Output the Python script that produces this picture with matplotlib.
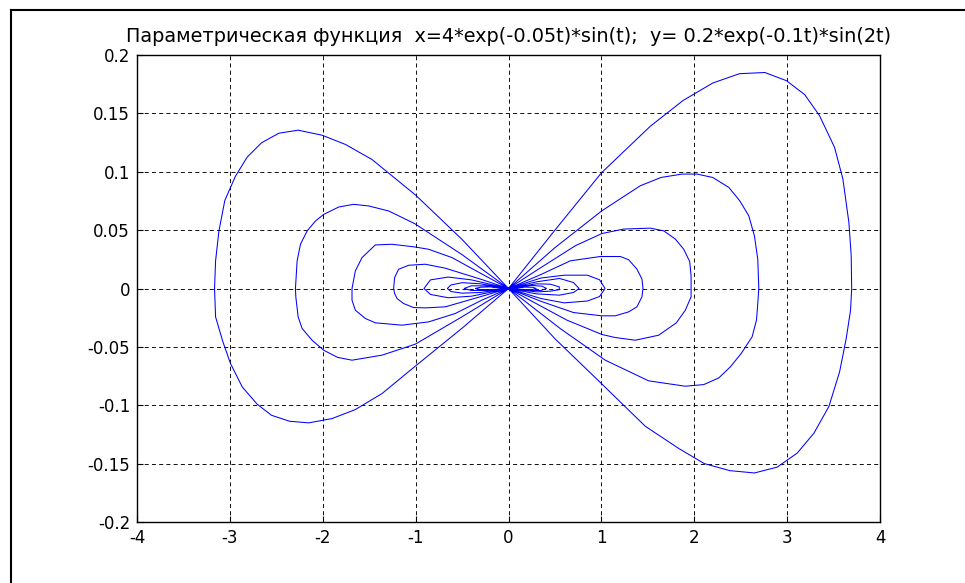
import matplotlib
matplotlib.use("Agg")
import matplotlib.pyplot as plt
from matplotlib.lines import Line2D

# ---- data (one closed lobe per list pair) ----
lobe0_x = [0, 0.5, 1.0, 1.527, 1.879, 2.199, 2.487, 2.76, 2.993, 3.19, 3.349, 3.51, 3.60, 3.665, 3.69, 3.695,
           3.683, 3.636, 3.565, 3.45, 3.288, 3.108, 2.893, 2.648, 2.382, 2.109, 1.833, 1.473, 1.0, 0.5, 0]
lobe0_y = [0, 0.05, 0.099, 0.139, 0.161, 0.176, 0.184, 0.185, 0.178, 0.166, 0.148, 0.121, 0.094, 0.0566, 0.028, 0.0,
           -0.0186, -0.0429, -0.0714, -0.101, -0.124, -0.141, -0.153, -0.158, -0.156, -0.150, -0.137, -0.118, -0.0814, -0.043, 0]

lobe1_x = [0, -0.5, -1.0, -1.47, -1.756, -2.007, -2.265, -2.473, -2.659, -2.814, -2.939, -3.054, -3.118, -3.154, -3.165,
           -3.154, -3.075, -2.993, -2.867, -2.706, -2.552, -2.358, -2.151, -1.900, -1.649, -1.362, -1.011, -0.5, 0]
lobe1_y = [0, 0.042, 0.080, 0.1105, 0.1234, 0.1313, 0.1356, 0.133, 0.1248, 0.1125, 0.0963, 0.0755, 0.0493, 0.0236, 0.0,
           -0.0243, -0.0457, -0.0643, -0.0843, -0.0991, -0.1086, -0.1137, -0.1151, -0.1114, -0.1037, -0.09, -0.067, -0.034, 0]

lobe2_x = [0, 0.5, 1.006, 1.419, 1.642, 1.868, 2.03, 2.199, 2.372, 2.49, 2.587, 2.648, 2.684, 2.695,
           2.684, 2.67, 2.623, 2.505, 2.39, 2.264, 2.102, 1.904, 1.509, 1.042, 0.557, 0]
lobe2_y = [0, 0.035, 0.0666, 0.088, 0.0951, 0.098, 0.098, 0.0951, 0.0866, 0.0751, 0.0623, 0.0451, 0.0251, 0,
           -0.0129, -0.0271, -0.0414, -0.0557, -0.067, -0.0766, -0.0823, -0.0837, -0.0791, -0.0614, -0.0343, 0]

lobe3_x = [0, -0.5, -1.011, -1.29, -1.505, -1.667, -1.828, -1.989, -2.079, -2.168, -2.24, -2.276, -2.294,
           -2.29, -2.265, -2.222, -2.115, -1.989, -1.84, -1.685, -1.362, -1.004, -0.502, 0]
lobe3_y = [0, 0.029, 0.0556, 0.0664, 0.0707, 0.0721, 0.0698, 0.0635, 0.0578, 0.0493, 0.0379, 0.0236, 0,
           -0.0071, -0.0243, -0.0343, -0.0443, -0.0529, -0.059, -0.0614, -0.0571, -0.0477, -0.0243, 0]

lobe4_x = [0, 0.35, 0.719, 1.006, 1.24, 1.527, 1.671, 1.797, 1.886, 1.951, 1.966,
           1.966, 1.904, 1.807, 1.617, 1.365, 1.15, 1.006, 0.629, 0.3, 0]
lobe4_y = [0, 0.018, 0.0366, 0.0471, 0.0509, 0.0517, 0.0494, 0.0423, 0.0337, 0.0231, 0.0109,
           -0.0071, -0.0186, -0.0294, -0.040, -0.0443, -0.042, -0.0394, -0.0271, -0.013, 0]

lobe5_x = [0, -0.3, -0.609, -0.86, -1.011, -1.254, -1.434, -1.577, -1.649, -1.685,
           -1.685, -1.649, -1.541, -1.434, -1.147, -0.86, -0.573, -0.287, 0]
lobe5_y = [0, 0.013, 0.0265, 0.0336, 0.0356, 0.0379, 0.0373, 0.0265, 0.0151, 0,
           -0.010, -0.0186, -0.0257, -0.0294, -0.0314, -0.0286, -0.0214, -0.010, 0]

lobe6_x = [0, 0.35, 0.665, 0.988, 1.204, 1.294, 1.383, 1.437, 1.448, 1.437, 1.383, 1.294, 1.15, 1.006, 0.70, 0.35, 0]
lobe6_y = [0, 0.012, 0.0237, 0.0274, 0.0274, 0.0246, 0.0166, 0.008, 0, -0.0071, -0.0157, -0.020, -0.0234, -0.0234, -0.0206, -0.011, 0]

lobe7_x = [0, -0.3, -0.681, -0.896, -1.075, -1.183, -1.226, -1.237, -1.226, -1.2, -1.129, -1.022, -0.896, -0.681, -0.43, 0]
lobe7_y = [0, 0.008, 0.0174, 0.0208, 0.0199, 0.0165, 0.0094, 0, -0.0043, -0.0086, -0.0129, -0.0163, -0.0166, -0.0157, -0.010, 0]

lobe8_x = [0, 0.35, 0.6, 0.85, 0.98, 1.04, 0.98, 0.85, 0.6, 0.35, 0]
lobe8_y = [0, 0.009, 0.0114, 0.0114, 0.0075, 0, -0.0069, -0.0107, -0.0123, -0.0086, 0]

lobe9_x = [0, -0.4, -0.65, -0.84, -0.91, -0.84, -0.65, -0.4, 0]
lobe9_y = [0, 0.0074, 0.0098, 0.0074, 0, -0.0051, -0.0079, -0.0066, 0]

lobe10_x = [0, 0.3, 0.55, 0.7, 0.76, 0.7, 0.55, 0.3, 0]
lobe10_y = [0, 0.0057, 0.0086, 0.0051, 0, -0.0034, -0.0057, -0.0046, 0]

lobe11_x = [0, -0.3, -0.5, -0.62, -0.659, -0.62, -0.5, -0.3, 0]
lobe11_y = [0, 0.004, 0.005, 0.003, 0, -0.0026, -0.004, -0.0034, 0]

lobe12_x = [0, 0.3, 0.45, 0.547, 0.547, 0.45, 0.3, 0]
lobe12_y = [0, 0.004, 0.0037, 0.0014, -0.001, -0.0023, -0.0029, 0]

lobe13_x = [0, -0.25, -0.4, -0.479, -0.4, -0.25, 0]
lobe13_y = [0, 0.0023, 0.0023, 0, -0.0017, -0.0017, 0]

lobe14_x = [0, 0.25, 0.36, 0.41, 0.35, 0.25, 0]
lobe14_y = [0, 0.0026, 0.002, 0, -0.0017, -0.0017, 0]

lobe15_x = [0, -0.2, -0.3, -0.36, -0.3, -0.2, 0]
lobe15_y = [0, 0.0014, 0.0011, 0, -0.0009, -0.001, 0]

lobe16_x = [0, 0.18, 0.26, 0.3, 0.26, 0.18, 0]
lobe16_y = [0, 0.0012, 0.001, 0, -0.0008, -0.0009, 0]

x_ticks = [-4, -3, -2, -1, 0, 1, 2, 3, 4]
x_ticklabels = ['-4', '-3', '-2', '-1', '0', '1', '2', '3', '4']
y_ticks = [-0.2, -0.15, -0.1, -0.05, 0, 0.05, 0.1, 0.15, 0.2]
y_ticklabels = ['-0.2', '-0.15', '-0.1', '-0.05', '0', '0.05', '0.1', '0.15', '0.2']
title_text = 'Параметрическая функция  x=4*exp(-0.05t)*sin(t);  y= 0.2*exp(-0.1t)*sin(2t)'

lobes = [(lobe0_x, lobe0_y), (lobe1_x, lobe1_y), (lobe2_x, lobe2_y), (lobe3_x, lobe3_y),
         (lobe4_x, lobe4_y), (lobe5_x, lobe5_y), (lobe6_x, lobe6_y), (lobe7_x, lobe7_y),
         (lobe8_x, lobe8_y), (lobe9_x, lobe9_y), (lobe10_x, lobe10_y), (lobe11_x, lobe11_y),
         (lobe12_x, lobe12_y), (lobe13_x, lobe13_y), (lobe14_x, lobe14_y), (lobe15_x, lobe15_y),
         (lobe16_x, lobe16_y)]
xs, ys = [], []
for lx, ly in lobes:
    xs.extend(lx)
    ys.extend(ly)

W, H = 965, 583
fig = plt.figure(figsize=(W / 100, H / 100), dpi=100)
fig.patch.set_facecolor('white')
ax = fig.add_axes([137 / W, 1 - 522 / H, (880 - 137) / W, (522 - 55) / H])

ax.plot(xs, ys, color='#0000ff', lw=0.75, solid_joinstyle='miter')

ax.set_xlim(-4, 4)
ax.set_ylim(-0.2, 0.2)
ax.set_xticks(x_ticks)
ax.set_xticklabels(x_ticklabels)
ax.set_yticks(y_ticks)
ax.set_yticklabels(y_ticklabels)
ax.tick_params(direction='in', length=4, width=0.8, colors='black', labelsize=12, pad=5)
for lab in ax.get_xticklabels() + ax.get_yticklabels():
    lab.set_family('DejaVu Sans')
ax.grid(True, color='black', linestyle=(0, (4.5, 3.5)), linewidth=0.65)
for s in ax.spines.values():
    s.set_linewidth(1.0)
    s.set_color('black')

ax.set_title(title_text, fontsize=13.9, family=['DejaVu Sans'], pad=9)

# outer frame (left and top edges visible in the reference)
fig.add_artist(Line2D([11 / W, 1.0], [1 - 10 / H, 1 - 10 / H], transform=fig.transFigure, color='black', lw=1.5))
fig.add_artist(Line2D([11 / W, 11 / W], [0.0, 1 - 10 / H], transform=fig.transFigure, color='black', lw=1.5))

fig.savefig('out.png', dpi=100)
